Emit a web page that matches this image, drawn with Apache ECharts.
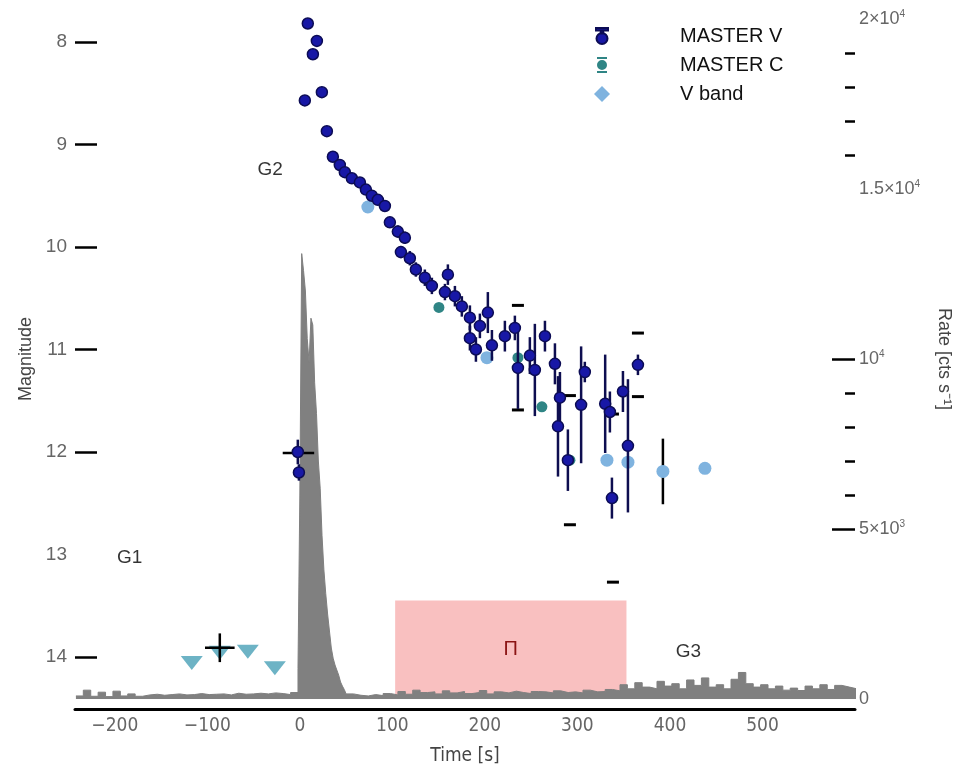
<!DOCTYPE html>
<html>
<head>
<meta charset="utf-8">
<script src="https://cdn.jsdelivr.net/npm/echarts@6/dist/echarts.min.js"></script>
<style>
  html, body { margin: 0; padding: 0; background: #fff; }
  #chart { width: 961px; height: 773px; }
</style>
</head>
<body>
<div id="chart"></div>
<script>
// ---- MASTER V photometry: time since trigger [s], magnitude, 1-sigma error ----
const masterVTime = [8.6, 18.4, 14.1, 23.8, 5.4, 29.2, 35.7, 43.2, 48.6, 56.2,
  64.9, 71.4, 77.8, 84.3, 91.9, 97.3, 105.9, 113.5, 109.2, 118.9,
  125.4, 135.1, 142.7, 160.0, 156.8, 167.6, 175.1, 183.8, 194.6, 203.2,
  183.8, 190.3, 207.6, 221.6, 232.4, 235.7, 248.6, 264.9, 254.0, 275.7,
  281.1, 279.0, 289.7, 308.0, 304.0, 330.0, 335.1, 349.2, 354.6, 337.3,
  365.4, -2.2, -1.0];
const masterVMag = [7.82, 7.99, 8.12, 8.49, 8.57, 8.87, 9.12, 9.20, 9.27, 9.33,
  9.37, 9.44, 9.50, 9.54, 9.60, 9.76, 9.85, 9.91, 10.05, 10.11,
  10.22, 10.30, 10.38, 10.27, 10.44, 10.48, 10.58, 10.69, 10.77, 10.64,
  10.89, 11.00, 10.96, 10.87, 10.79, 11.18, 11.06, 10.87, 11.20, 11.14,
  11.47, 11.75, 12.08, 11.22, 11.54, 11.53, 11.61, 11.41, 11.94, 12.45,
  11.15, 12.00, 12.20];
const masterVErr = [0, 0, 0, 0, 0, 0, 0.03, 0.03, 0.03, 0.04,
  0.04, 0.04, 0.05, 0.05, 0.05, 0.05, 0.06, 0.06, 0.06, 0.07,
  0.07, 0.08, 0.08, 0.10, 0.08, 0.10, 0.10, 0.12, 0.12, 0.20,
  0.12, 0.12, 0.15, 0.15, 0.12, 0.40, 0.18, 0.15, 0.45, 0.20,
  0.25, 0.49, 0.30, 0.10, 0.57, 0.48, 0.20, 0.20, 0.65, 0.20,
  0.10, 0.12, 0.08];

// ---- MASTER C (unfiltered) photometry ----
const masterCTime = [150.3, 261.6, 235.7, 291.9, 338.4, 365.4];
const masterCMag  = [10.59, 11.56, 11.08, 12.08, 12.45, 11.15];
const masterCErr  = [0, 0, 0.51, 0.63, 0.82, 0.31];

// ---- V band photometry ----
const vBandTime = [73.5, 202.2, 331.9, 354.6, 392.4, 437.8];
const vBandMag  = [9.61, 11.08, 12.08, 12.10, 12.19, 12.16];
const vBandErr  = [0, 0, 0, 0, 0.32, 0];

// ---- pre-trigger upper limits ----
const limitTime = [-116.8, -86.5, -56.2, -27.0];
const limitMag  = [14.06, 13.96, 13.95, 14.11];

// ---- exposures with time span and magnitude error ----
const expTime = [-86.5, -1.5];
const expMag = [13.91, 12.01];
const expTimeErr = [16, 17];
const expMagErr = [0.14, 0];

// ---- gamma-ray light curve [cts/s] ----
const preBinStart = -242, preBinWidth = 8;
const preRate = [90, 260, 80, 200, 70, 230, 90, 150, 80, 120,
  140, 110, 130, 150, 120, 130, 160, 130, 140, 150,
  120, 170, 140, 150, 170, 150, 180, 160, 130, 190];
const burstBinStart = -2, burstBinWidth = 2;
const burstRate = [900, 6000, 13100, 12600, 12000, 10600, 9900, 11200, 11000, 9300,
  8400, 7000, 6200, 4800, 3800, 3100, 2500, 2000, 1500, 1200,
  1000, 850, 700, 500, 380, 280];
const postBinStart = 50, postBinWidth = 8;
const postRate = [150, 110, 90, 130, 100, 160, 120,
  220, 140, 260, 190, 210, 150, 240, 180, 220, 160,
  190, 250, 150, 210, 180, 230, 190, 160, 220, 210,
  180, 240, 190, 210, 180, 260, 210, 220, 280, 240,
  420, 300, 480, 350, 300, 520, 380, 450, 300, 560,
  400, 620, 350, 420, 300, 580, 780, 450, 350, 420,
  300, 380, 260, 320, 250, 380, 300, 420, 280, 400,
  350, 300];

// ---- shaded interval ----
const spanStart = 103, spanEnd = 353, spanRateTop = 2900, spanLabel = 'П';

// ---- phase labels ----
const phaseText = ['G1', 'G2', 'G3'];
const phaseTime = [-184, -32, 420];
const phaseMag  = [13.03, 9.25, 13.95];

// ---- axis ticks ----
const timeTicks = [-200, -100, 0, 100, 200, 300, 400, 500];
const magTicks = [8, 9, 10, 11, 12, 13, 14];
const magTickMarks = [8, 9, 10, 11, 12, 14];
const rateTicks = [0, 5000, 10000, 15000, 20000];
const rateMajorMarks = [5000, 10000];
const rateMinorMarks = [6000, 7000, 8000, 9000, 16000, 17000, 18000, 19000];

// build step-histogram vertices from bin starts
function binsToPoints(start, width, rates) {
  return rates.map((r, i) => [start + i * width, r]);
}
const histPoints = []
  .concat(binsToPoints(preBinStart, preBinWidth, preRate))
  .concat(binsToPoints(burstBinStart, burstBinWidth, burstRate))
  .concat(binsToPoints(postBinStart, postBinWidth, postRate));
histPoints.push([postBinStart + postRate.length * postBinWidth, postRate[postRate.length - 1]]);

const zip3 = (a, b, c) => a.map((v, i) => [v, b[i], c[i]]);

const FONT = '"Liberation Sans", Arial, sans-serif';
const NARROW = '"Liberation Sans Narrow", "DejaVu Sans Condensed", "Liberation Sans", sans-serif';

// vertical error bar renderer
function errorBars(color, width, showLine, capHalf) {
  return function (params, api) {
    const t = api.value(0), m = api.value(1), e = api.value(2);
    if (!e) return null;
    const a = api.coord([t, m - e]);
    const b = api.coord([t, m + e]);
    const children = [];
    if (showLine) {
      children.push({ type: 'line', shape: { x1: a[0], y1: a[1], x2: b[0], y2: b[1] },
        style: { stroke: color, lineWidth: width } });
    }
    if (capHalf) {
      [a, b].forEach(p => children.push({ type: 'line',
        shape: { x1: p[0] - capHalf, y1: p[1], x2: p[0] + capHalf, y2: p[1] },
        style: { stroke: color, lineWidth: 3 } }));
    }
    return { type: 'group', children };
  };
}

// horizontal (exposure span) and vertical error bars
function crossBars(params, api) {
  const t = api.value(0), m = api.value(1), te = api.value(2), me = api.value(3);
  const l = api.coord([t - te, m]), r = api.coord([t + te, m]);
  const children = [
    { type: 'line', shape: { x1: l[0], y1: l[1], x2: r[0], y2: r[1] }, style: { stroke: '#000', lineWidth: 2.5 } }
  ];
  if (me) {
    const u = api.coord([t, m - me]), d = api.coord([t, m + me]);
    children.push({ type: 'line', shape: { x1: u[0], y1: u[1], x2: d[0], y2: d[1] }, style: { stroke: '#000', lineWidth: 2.5 } });
  }
  return { type: 'group', children };
}

const rateLabel = {
  0: '0', 5000: '5×10{s|3}', 10000: '10{s|4}', 15000: '1.5×10{s|4}', 20000: '2×10{s|4}'
};

const chart = echarts.init(document.getElementById('chart'), null, { renderer: 'canvas' });

chart.setOption({
  animation: false,
  backgroundColor: '#fff',
  grid: { left: 75, right: 106, top: 19, bottom: 74 },
  legend: {
    orient: 'vertical',
    left: 589,
    top: 21,
    itemWidth: 16,
    itemHeight: 16,
    itemGap: 9,
    textStyle: { fontSize: 20, color: '#111', fontFamily: FONT, padding: [0, 0, 0, 65] },
    data: [
      { name: 'MASTER V', icon: 'path://M2,0H14V2.5H2Z M6.8,2.5H9.2V5.5H6.8Z M2.5,10.5A5.5,5.5 0 1 0 13.5,10.5A5.5,5.5 0 1 0 2.5,10.5Z' },
      { name: 'MASTER C', icon: 'path://M3,0H13V2H3Z M3,8A5,5 0 1 0 13,8A5,5 0 1 0 3,8Z M3,14H13V16H3Z' },
      { name: 'V band', icon: 'path://M8,2L14,8L8,14L2,8Z' }
    ]
  },
  xAxis: {
    type: 'value',
    min: -243,
    max: 600,
    offset: 10,
    axisLine: { show: true, onZero: false, lineStyle: { color: '#000', width: 3 } },
    axisTick: { show: false },
    splitLine: { show: false },
    axisLabel: {
      customValues: timeTicks,
      formatter: v => (v < 0 ? '−' + (-v) : String(v)),
      color: '#666', fontSize: 19, margin: 8, fontFamily: NARROW
    },
    name: 'Time [s]',
    nameLocation: 'middle',
    nameGap: 38,
    nameTextStyle: { fontSize: 19, color: '#444', fontFamily: NARROW }
  },
  yAxis: [
    {
      type: 'value',
      inverse: true,
      min: 7.776,
      max: 14.41,
      position: 'left',
      axisLine: { show: false, onZero: false },
      axisTick: { show: true, inside: true, length: 22, customValues: magTickMarks,
        lineStyle: { color: '#000', width: 2.5 } },
      axisLabel: { customValues: magTicks, color: '#666', fontSize: 19, margin: 8, fontFamily: FONT },
      splitLine: { show: false },
      name: 'Magnitude',
      nameLocation: 'middle',
      nameRotate: 90,
      nameGap: 38,
      nameTextStyle: { fontSize: 18, color: '#444', fontFamily: FONT }
    },
    {
      type: 'value',
      min: 0,
      max: 20000,
      position: 'right',
      axisLine: { show: false, onZero: false },
      axisTick: { show: true, inside: true, length: 23, customValues: rateMajorMarks,
        lineStyle: { color: '#000', width: 2.5 } },
      axisLabel: {
        customValues: rateTicks,
        formatter: v => rateLabel[v],
        color: '#666', fontSize: 18, margin: 4, fontFamily: FONT,
        rich: { s: { fontSize: 10, verticalAlign: 'top', color: '#666', padding: [0, 0, 10, 0] } }
      },
      splitLine: { show: false },
      name: 'Rate [cts s⁻¹]',
      nameLocation: 'middle',
      nameRotate: -90,
      nameGap: 80,
      nameTextStyle: { fontSize: 18, color: '#444', fontFamily: FONT }
    },
    {
      type: 'value',
      min: 0,
      max: 20000,
      position: 'right',
      axisLine: { show: false, onZero: false },
      axisTick: { show: true, inside: true, length: 10, customValues: rateMinorMarks,
        lineStyle: { color: '#000', width: 2.5 } },
      axisLabel: { show: false },
      splitLine: { show: false }
    }
  ],
  series: [
    {
      name: 'rate',
      type: 'line',
      xAxisIndex: 0,
      yAxisIndex: 1,
      step: 'end',
      symbol: 'none',
      data: histPoints,
      lineStyle: { color: '#7f7f7f', width: 1 },
      areaStyle: { color: '#808080', opacity: 1 },
      z: 1,
      markArea: {
        silent: true,
        itemStyle: { color: 'rgba(245,150,150,0.6)' },
        label: { show: true, position: 'inside', color: '#8b1414', fontSize: 20, fontFamily: FONT },
        data: [[
          { name: spanLabel, xAxis: spanStart, yAxis: spanRateTop },
          { xAxis: spanEnd, yAxis: 0 }
        ]]
      }
    },
    {
      name: 'limits',
      type: 'scatter',
      yAxisIndex: 0,
      symbol: 'triangle',
      symbolRotate: 180,
      symbolSize: [22, 14],
      itemStyle: { color: '#6db3c5', opacity: 1 },
      data: limitTime.map((t, i) => [t, limitMag[i]]),
      z: 3
    },
    {
      name: 'exposures',
      type: 'custom',
      yAxisIndex: 0,
      renderItem: crossBars,
      data: expTime.map((t, i) => [t, expMag[i], expTimeErr[i], expMagErr[i]]),
      z: 4
    },
    {
      name: 'V band err',
      type: 'custom',
      yAxisIndex: 0,
      renderItem: errorBars('#000', 2.5, true, 0),
      data: zip3(vBandTime, vBandMag, vBandErr),
      z: 3
    },
    {
      name: 'V band',
      type: 'scatter',
      yAxisIndex: 0,
      symbol: 'circle',
      symbolSize: 13,
      itemStyle: { color: '#7fb3df', opacity: 1 },
      data: vBandTime.map((t, i) => [t, vBandMag[i]]),
      z: 4
    },
    {
      name: 'MASTER C err',
      type: 'custom',
      yAxisIndex: 0,
      renderItem: errorBars('#000', 1, false, 6),
      data: zip3(masterCTime, masterCMag, masterCErr),
      z: 5
    },
    {
      name: 'MASTER C',
      type: 'scatter',
      yAxisIndex: 0,
      symbol: 'circle',
      symbolSize: 11,
      itemStyle: { color: '#2f8585', opacity: 1 },
      data: masterCTime.map((t, i) => [t, masterCMag[i]]),
      z: 5
    },
    {
      name: 'MASTER V err',
      type: 'custom',
      yAxisIndex: 0,
      renderItem: errorBars('#0e0e50', 2.5, true, 0),
      data: zip3(masterVTime, masterVMag, masterVErr),
      z: 6
    },
    {
      name: 'MASTER V',
      type: 'scatter',
      yAxisIndex: 0,
      symbol: 'circle',
      symbolSize: 11,
      itemStyle: { color: '#1818a6', borderColor: '#0c0c55', borderWidth: 1.5, opacity: 1 },
      data: masterVTime.map((t, i) => [t, masterVMag[i]]),
      z: 7
    },
    {
      name: 'phases',
      type: 'scatter',
      yAxisIndex: 0,
      symbolSize: 0,
      silent: true,
      label: { show: true, position: 'inside', formatter: p => p.name,
        color: '#000', fontSize: 19, fontFamily: FONT },
      data: phaseText.map((s, i) => ({ name: s, value: [phaseTime[i], phaseMag[i]] })),
      z: 8
    }
  ]
});
</script>
</body>
</html>
